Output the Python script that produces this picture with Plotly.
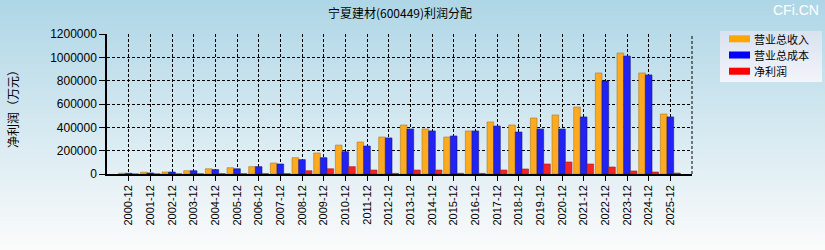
import base64
import plotly.graph_objects as go

categories = ["2000-12", "2001-12", "2002-12", "2003-12", "2004-12", "2005-12", "2006-12",
              "2007-12", "2008-12", "2009-12", "2010-12", "2011-12", "2012-12", "2013-12",
              "2014-12", "2015-12", "2016-12", "2017-12", "2018-12", "2019-12", "2020-12",
              "2021-12", "2022-12", "2023-12", "2024-12", "2025-12"]
revenue = [7000, 15000, 17000, 28000, 45000, 54000, 63000, 94000, 140000, 180000, 248000,
           274000, 317000, 420000, 386000, 317000, 369000, 446000, 420000, 480000, 506000,
           574000, 866000, 1037000, 866000, 514000]
cost = [6000, 9000, 17000, 28000, 38000, 45000, 63000, 86000, 123000, 140000, 191000,
        240000, 309000, 386000, 369000, 326000, 369000, 411000, 360000, 386000, 386000,
        489000, 797000, 1011000, 849000, 489000]
profit = [300, 1000, 1500, 2000, 3000, 3000, 3000, 3000, 28000, 45000, 63000,
          34000, 5000, 34000, 34000, 6000, 5000, 34000, 43000, 86000, 103000,
          86000, 60000, 26000, 17000, 8000]
series_names = ["营业总收入", "营业总成本", "净利润"]
series_colors = ["#FFAA1E", "#2222F5", "#F52525"]
edge_colors = ["#A87A20", "#1A1A80", "#A02020"]
legend_colors = ["#FFA500", "#0000FF", "#FF0000"]
y_ticks = [0, 200000, 400000, 600000, 800000, 1000000, 1200000]

W, H = 825, 250
L, R, T, B = 107, 133, 34, 76
pw, ph = W - L - R, H - T - B


def px_x(x):
    return (x - L) / pw


def px_y(y):
    return (H - B - y) / ph


svg = f'''<svg xmlns="http://www.w3.org/2000/svg" width="{W}" height="{H}">
<defs><linearGradient id="g" x1="0" y1="0" x2="0" y2="1">
<stop offset="0" stop-color="#AED6E6"/><stop offset="1" stop-color="#FBFBFB"/></linearGradient>
<linearGradient id="lg" x1="0" y1="0" x2="0" y2="1">
<stop offset="0" stop-color="#D8E2F0"/><stop offset="1" stop-color="#F4F4FA"/></linearGradient></defs>
<rect width="{W}" height="{H}" fill="url(#g)"/>
<rect x="720" y="31" width="102" height="51" fill="url(#lg)"/>
</svg>'''
src = "data:image/svg+xml;base64," + base64.b64encode(svg.encode()).decode()

fig = go.Figure()
for name, vals, col, ec in zip(series_names, [revenue, cost, profit], series_colors, edge_colors):
    fig.add_trace(go.Bar(x=list(range(len(categories))), y=vals, name=name,
                         marker=dict(color=col, line=dict(color=ec, width=0.6))))

leg_font = 11
row_gap = 16.2
row_center = 55
annotations = [
    dict(text="CFi.CN", xref="paper", yref="paper", x=px_x(W - 4), y=px_y(10),
         xanchor="right", yanchor="middle", showarrow=False,
         font=dict(family="Liberation Sans", size=14, color="#FFFFFF")),
    dict(text="净利润（万元）", xref="paper", yref="paper", x=px_x(12), y=px_y(106),
         xanchor="center", yanchor="middle", showarrow=False, textangle=-90,
         font=dict(family="Noto Sans CJK SC", size=12, color="#000")),
]
shapes = [dict(type="line", xref="paper", yref="paper", x0=1, x1=1, y0=0, y1=1,
               line=dict(color="#000", width=1, dash="3px,2px"))]
for i, (name, col) in enumerate(zip(series_names, legend_colors)):
    yy = row_center + (i - 1) * row_gap
    shapes.append(dict(type="rect", xref="paper", yref="paper", x0=px_x(729), x1=px_x(750),
                       y0=px_y(yy - 3.5), y1=px_y(yy + 3.5), fillcolor=col, line=dict(width=0)))
    annotations.append(dict(text=name, xref="paper", yref="paper", x=px_x(753), y=px_y(yy),
                            xanchor="left", yanchor="middle", showarrow=False, borderpad=0,
                            font=dict(family="Noto Sans CJK SC", size=leg_font, color="#000")))

fig.update_layout(
    width=W, height=H,
    margin=dict(l=L, r=R, t=T, b=B, pad=0),
    paper_bgcolor="rgba(0,0,0,0)", plot_bgcolor="rgba(0,0,0,0)",
    barmode="group", bargap=0.08, bargroupgap=0,
    showlegend=False,
    font=dict(family="Liberation Sans, Arial", size=12, color="#000"),
    title=dict(text="宁夏建材(600449)利润分配", x=400 / W, xanchor="center", y=1 - 14 / H,
               yanchor="middle", font=dict(family="Noto Sans CJK SC", size=12, color="#000")),
    xaxis=dict(range=[-1, 26], tickmode="array", tickvals=list(range(len(categories))),
               ticktext=categories, tickangle=-90, showgrid=True, gridcolor="#000",
               griddash="3px,2px", gridwidth=1, showline=True, linecolor="#000", linewidth=1.5,
               mirror=False, ticks="outside", ticklen=5, tickcolor="#000",
               tickfont=dict(size=11), zeroline=False),
    yaxis=dict(range=[0, 1200000], tickmode="array", tickvals=y_ticks,
               ticktext=[str(v) for v in y_ticks], showgrid=True, gridcolor="#000",
               griddash="3px,2px", gridwidth=1, showline=True, linecolor="#000", linewidth=1.5,
               ticks="outside", ticklen=6, tickcolor="#000", zeroline=False,
               tickfont=dict(size=12)),
    images=[dict(source=src, xref="paper", yref="paper", x=-L / pw, y=(ph + T) / ph,
                 sizex=W / pw, sizey=H / ph, xanchor="left", yanchor="top",
                 sizing="stretch", layer="below")],
    annotations=annotations,
    shapes=shapes,
)
fig.write_html("out.html")
